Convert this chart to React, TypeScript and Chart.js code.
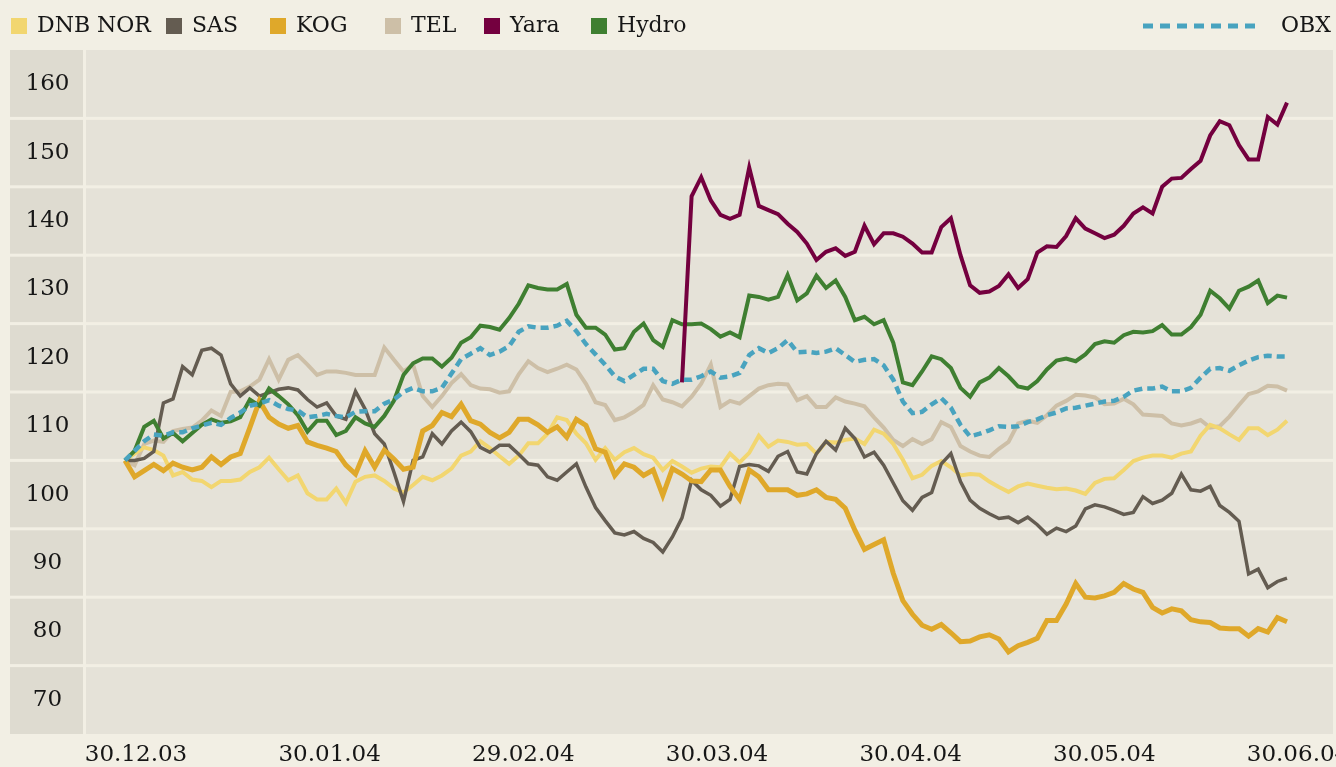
import React, { useEffect, useRef } from 'react';
import { Chart, registerables } from 'chart.js';

Chart.register(...registerables);

// ---------- data ----------
const seriesNames = ['DNB NOR', 'SAS', 'KOG', 'TEL', 'Yara', 'Hydro'];
const benchmarkName = 'OBX';
const xTickLabels = ['30.12.03', '30.01.04', '29.02.04', '30.03.04', '30.04.04', '30.05.04', '30.06.04'];
const yTickLabels = ['70', '80', '90', '100', '110', '120', '130', '140', '150', '160'];

const dnbNor = [
  100, 101.0, 101.9, 101.5, 100.7, 97.8, 98.3, 97.2, 97.0, 96.1,
  97.0, 97.0, 97.2, 98.3, 99.0, 100.4, 98.7, 97.1, 97.8, 95.2,
  94.3, 94.3, 95.9, 93.8, 96.9, 97.6, 97.8, 97.0, 95.9, 95.3,
  96.4, 97.6, 97.1, 97.8, 98.8, 100.7, 101.3, 102.8, 101.8, 100.6,
  99.5, 100.7, 102.5, 102.5, 103.9, 106.3, 105.9, 103.9, 102.5, 100.1,
  101.8, 100.1, 101.2, 101.8, 100.9, 100.4, 98.6, 99.9, 99.1, 98.2,
  98.8, 99.1, 99.0, 101.0, 99.7, 101.1, 103.6, 102.0, 102.9, 102.7,
  102.3, 102.4, 101.0, 102.7, 102.6, 103.0, 103.2, 102.4, 104.5, 103.9,
  102.4, 100.1, 97.4, 97.9, 99.2, 99.9, 99.0, 97.8, 98.0, 97.9,
  96.9, 96.1, 95.4, 96.2, 96.6, 96.3, 96.0, 95.8, 95.9, 95.6,
  95.1, 96.7, 97.3, 97.4, 98.6, 99.9, 100.4, 100.7, 100.7, 100.4,
  101.0, 101.3, 103.6, 105.2, 104.7, 103.8, 103.0, 104.7, 104.7, 103.7,
  104.5, 105.8,
];

const sas = [
  100, 100.0, 100.3, 101.3, 108.4, 109.0, 113.7, 112.5, 116.1, 116.4,
  115.4, 111.2, 109.4, 110.6, 109.4, 109.9, 110.4, 110.6, 110.3, 108.9,
  107.8, 108.4, 106.5, 106.0, 110.1, 107.5, 103.9, 102.4, 98.3, 94.0,
  100.0, 100.5, 103.9, 102.4, 104.3, 105.6, 104.2, 101.9, 101.2, 102.2,
  102.2, 100.9, 99.5, 99.3, 97.6, 97.1, 98.3, 99.5, 96.1, 93.1,
  91.2, 89.4, 89.1, 89.6, 88.6, 88.0, 86.6, 88.8, 91.6, 97.1,
  95.7, 94.9, 93.3, 94.3, 99.1, 99.4, 99.2, 98.4, 100.6, 101.3,
  98.3, 98.0, 101.0, 102.8, 101.5, 104.7, 103.2, 100.5, 101.2, 99.3,
  96.7, 94.1, 92.7, 94.6, 95.3, 99.5, 101.0, 96.9, 94.2, 93.0,
  92.2, 91.5, 91.7, 90.9, 91.7, 90.6, 89.2, 90.1, 89.6, 90.4,
  92.9, 93.5, 93.2, 92.7, 92.1, 92.4, 94.7, 93.7, 94.2, 95.2,
  98.0, 95.7, 95.5, 96.2, 93.4, 92.4, 91.1, 83.4, 84.1, 81.4,
  82.3, 82.8,
];

const kog = [
  100, 97.6, 98.5, 99.4, 98.5, 99.6, 99.0, 98.6, 99.0, 100.5,
  99.4, 100.5, 101.0, 104.8, 108.7, 106.3, 105.3, 104.7, 105.1, 102.7,
  102.2, 101.8, 101.3, 99.3, 98.0, 101.4, 99.0, 101.5, 100.2, 98.7,
  99.0, 104.3, 105.1, 107.0, 106.4, 108.2, 105.8, 105.3, 104.1, 103.3,
  104.1, 106.0, 106.0, 105.2, 104.1, 104.9, 103.4, 106.0, 105.1, 101.7,
  101.2, 97.8, 99.5, 99.0, 97.8, 98.6, 94.9, 98.8, 98.0, 97.0,
  96.9, 98.6, 98.6, 96.2, 94.3, 98.6, 97.6, 95.7, 95.7, 95.7,
  94.9, 95.1, 95.7, 94.6, 94.3, 93.0, 89.8, 87.0, 87.7, 88.4,
  83.5, 79.5, 77.5, 75.9, 75.3, 76.0, 74.8, 73.5, 73.6, 74.2,
  74.5, 73.9, 72.0, 72.9, 73.4, 74.0, 76.6, 76.6, 79.0, 82.0,
  80.0, 79.9, 80.2, 80.7, 82.0, 81.2, 80.7, 78.5, 77.7, 78.3,
  78.0, 76.7, 76.4, 76.3, 75.5, 75.4, 75.4, 74.3, 75.4, 74.9,
  77.0, 76.4,
];

const tel = [
  100, 99.3, 102.4, 102.9, 102.7, 104.3, 104.6, 104.8, 105.8, 107.3,
  106.5, 110.0, 110.1, 110.8, 111.8, 114.8, 111.8, 114.7, 115.4, 114.0,
  112.5, 113.0, 113.0, 112.8, 112.5, 112.5, 112.5, 116.5, 114.7, 113.0,
  114.0, 109.4, 107.8, 109.4, 111.3, 112.6, 111.0, 110.5, 110.4, 109.9,
  110.1, 112.6, 114.5, 113.5, 112.9, 113.4, 114.0, 113.3, 111.2, 108.5,
  108.1, 105.9, 106.3, 107.1, 108.1, 111.0, 108.9, 108.5, 107.9, 109.3,
  111.2, 114.0, 107.8, 108.7, 108.3, 109.4, 110.5, 111.0, 111.2, 111.1,
  108.8, 109.4, 107.8, 107.8, 109.2, 108.6, 108.3, 107.9, 106.3, 104.8,
  103.0, 102.1, 103.1, 102.4, 103.1, 105.6, 104.9, 102.1, 101.3, 100.7,
  100.5, 101.7, 102.7, 105.4, 105.8, 105.5, 106.6, 108.0, 108.7, 109.6,
  109.5, 109.2, 108.2, 108.3, 109.0, 108.2, 106.7, 106.6, 106.5, 105.4,
  105.1, 105.4, 105.9, 104.8, 105.0, 106.4, 108.1, 109.7, 110.1, 110.9,
  110.8, 110.2,
];

// Yara was listed later: its first value belongs to trading day index 58
const yaraFirstIndex = 58;
const yara = [
  111.4, 138.6, 141.4, 138.0, 135.9, 135.3, 135.9, 142.8, 137.2, 136.6,
  136.0, 134.6, 133.4, 131.7, 129.3, 130.5, 131.0, 129.9, 130.5, 134.3,
  131.6, 133.2, 133.2, 132.7, 131.7, 130.4, 130.4, 134.1, 135.4, 130.0,
  125.6, 124.5, 124.7, 125.5, 127.2, 125.2, 126.5, 130.4, 131.3, 131.2,
  132.8, 135.4, 133.9, 133.2, 132.5, 133.0, 134.3, 136.1, 137.0, 136.1,
  140.0, 141.2, 141.3, 142.6, 143.8, 147.5, 149.6, 149.0, 146.1, 144.0,
  144.0, 150.2, 149.1, 152.3,
];

const hydro = [
  100, 101.4, 104.9, 105.8, 103.2, 104.0, 102.8, 104.0, 105.2, 106.0,
  105.5, 105.7, 106.3, 108.9, 108.0, 110.5, 109.4, 108.2, 106.6, 104.2,
  105.8, 105.8, 103.7, 104.3, 106.3, 105.4, 104.9, 106.5, 108.7, 112.5,
  114.2, 114.9, 114.9, 113.7, 115.0, 117.2, 118.0, 119.7, 119.5, 119.1,
  120.8, 122.9, 125.6, 125.2, 125.0, 125.0, 125.8, 121.3, 119.4, 119.4,
  118.4, 116.2, 116.4, 118.8, 120.0, 117.6, 116.6, 120.5, 119.9, 119.9,
  120.0, 119.2, 118.1, 118.7, 118.0, 124.1, 123.9, 123.5, 123.9, 127.1,
  123.4, 124.4, 127.0, 125.2, 126.3, 123.9, 120.5, 121.0, 119.9, 120.5,
  117.2, 111.4, 111.0, 113.0, 115.2, 114.8, 113.5, 110.6, 109.3, 111.4,
  112.1, 113.5, 112.3, 110.8, 110.5, 111.6, 113.3, 114.6, 114.9, 114.5,
  115.5, 117.0, 117.4, 117.2, 118.3, 118.8, 118.7, 118.9, 119.8, 118.4,
  118.4, 119.5, 121.3, 124.8, 123.7, 122.2, 124.8, 125.4, 126.3, 123.0,
  124.1, 123.8,
];

const obx = [
  100, 101.4, 102.8, 103.8, 103.6, 104.1, 104.1, 104.7, 105.1, 105.5,
  105.2, 106.2, 107.0, 108.0, 108.3, 108.8, 108.0, 107.5, 107.3, 106.3,
  106.5, 106.8, 106.5, 106.3, 107.1, 107.2, 107.2, 108.3, 108.9, 110.0,
  110.6, 110.1, 110.1, 110.6, 112.7, 114.8, 115.6, 116.4, 115.4, 115.9,
  116.7, 118.8, 119.6, 119.4, 119.4, 119.7, 120.4, 118.9, 117.0, 115.5,
  114.0, 112.3, 111.6, 112.5, 113.4, 113.4, 111.6, 111.2, 111.8, 111.8,
  112.3, 113.0, 112.1, 112.3, 112.8, 115.4, 116.4, 115.7, 116.4, 117.6,
  115.8, 115.9, 115.7, 115.9, 116.4, 115.4, 114.4, 114.7, 114.8, 113.9,
  111.8, 108.6, 106.9, 107.1, 108.2, 109.1, 107.7, 105.2, 103.5, 103.9,
  104.4, 105.0, 104.9, 105.0, 105.6, 106.0, 106.6, 107.0, 107.6, 107.7,
  108.0, 108.3, 108.6, 108.7, 109.3, 110.2, 110.5, 110.5, 110.8, 110.1,
  110.1, 110.6, 112.1, 113.4, 113.5, 113.1, 113.9, 114.6, 115.1, 115.3,
  115.2, 115.2,
];

// ---------- styles ----------
const COLORS = ['#f2d670', '#645c51', '#dfa82a', '#cdbfa7', '#74003f', '#3f7f31'];
const OBX_COLOR = '#48a3bf';
const PAGE_BG = '#f2efe4';
const PLOT_BG = '#e5e2d8';
const COL_BG = '#dedbd0';
const TEXT = '#161616';
const FONT = '"DejaVu Serif", "Liberation Serif", serif';

const W = 1336;
const H = 767;
const COL_LEFT = 10;
const PLOT_LEFT = 86;
const PLOT_RIGHT = 1333;
const PLOT_TOP = 50;
const PLOT_BOTTOM = 734;
const LINE_START_PX = 125;
const LINE_END_PX = 1287;
const LEGEND_X = [11, 166, 270, 385, 484, 591];

const toPoints = (arr: (number | null)[], offset = 0) => arr.map((v, i) => ({ x: i + offset, y: v }));

export default function App() {
  const ref = useRef<HTMLCanvasElement | null>(null);

  useEffect(() => {
    if (!ref.current) return;
    const n = dnbNor.length;
    const pxPerIdx = (LINE_END_PX - LINE_START_PX) / (n - 1);
    const xMin = -(LINE_START_PX - PLOT_LEFT) / pxPerIdx;
    const xMax = n - 1 + (PLOT_RIGHT - LINE_END_PX) / pxPerIdx;

    const series = [dnbNor, sas, kog, tel, yara, hydro];
    const widths = [4, 3.5, 5, 4, 4, 4];
    const orders = [5, 4, 3, 6, 1, 2];

    const datasets: any[] = series.map((arr, k) => ({
      label: seriesNames[k],
      data: toPoints(arr, k === 4 ? yaraFirstIndex : 0),
      borderColor: COLORS[k],
      backgroundColor: COLORS[k],
      borderWidth: widths[k],
      pointRadius: 0,
      tension: 0,
      fill: false,
      order: orders[k],
    }));
    datasets.push({
      label: benchmarkName,
      data: toPoints(obx),
      borderColor: OBX_COLOR,
      backgroundColor: OBX_COLOR,
      borderWidth: 4.5,
      borderDash: [8, 5],
      pointRadius: 0,
      tension: 0,
      fill: false,
      order: 0,
    });

    const decor = {
      id: 'decor',
      beforeDraw(chart: any) {
        const { ctx, chartArea: a, scales } = chart;
        const ys = scales.y;
        const xs = scales.x;
        ctx.save();
        ctx.fillStyle = PAGE_BG;
        ctx.fillRect(0, 0, chart.width, chart.height);
        ctx.fillStyle = COL_BG;
        ctx.fillRect(COL_LEFT, a.top, a.left - 3 - COL_LEFT, a.bottom - a.top);
        ctx.fillStyle = PLOT_BG;
        ctx.fillRect(a.left, a.top, a.right - a.left, a.bottom - a.top);

        // horizontal band separators
        ctx.fillStyle = PAGE_BG;
        for (let v = 70; v <= 150; v += 10) {
          const py = ys.getPixelForValue(v);
          ctx.fillRect(COL_LEFT, py - 1.5, a.right - COL_LEFT, 3);
        }

        // y labels (each sits in the band below its value)
        ctx.fillStyle = TEXT;
        ctx.font = `23px ${FONT}`;
        ctx.textAlign = 'center';
        ctx.textBaseline = 'middle';
        const colCenter = (COL_LEFT + a.left - 3) / 2 + 1;
        yTickLabels.forEach((t) => {
          const v = Number(t);
          ctx.fillText(t, colCenter, ys.getPixelForValue(v - 5));
        });

        // x labels
        const nIdx = dnbNor.length - 1;
        xTickLabels.forEach((t, k) => {
          const px = xs.getPixelForValue((k * nIdx) / (xTickLabels.length - 1)) + 11;
          ctx.fillText(t, px, 755);
        });

        // legend
        ctx.font = `22px ${FONT}`;
        ctx.textAlign = 'left';
        seriesNames.forEach((name, k) => {
          const lx = LEGEND_X[k];
          ctx.fillStyle = COLORS[k];
          ctx.fillRect(lx, 18, 16, 16);
          ctx.fillStyle = TEXT;
          ctx.fillText(name, lx + 26, 26);
        });
        ctx.strokeStyle = OBX_COLOR;
        ctx.lineWidth = 5;
        ctx.setLineDash([10, 7]);
        ctx.beginPath();
        ctx.moveTo(1143, 26);
        ctx.lineTo(1256, 26);
        ctx.stroke();
        ctx.setLineDash([]);
        ctx.fillStyle = TEXT;
        ctx.fillText(benchmarkName, 1281, 26);
        ctx.restore();
      },
    };

    const chart = new Chart(ref.current, {
      type: 'line',
      data: { datasets },
      options: {
        animation: false,
        responsive: false,
        maintainAspectRatio: false,
        devicePixelRatio: 1,
        layout: {
          padding: { left: PLOT_LEFT, right: W - PLOT_RIGHT, top: PLOT_TOP, bottom: H - PLOT_BOTTOM },
        },
        scales: {
          x: { type: 'linear', min: xMin, max: xMax, display: false },
          y: { type: 'linear', min: 60, max: 160, display: false },
        },
        plugins: {
          legend: { display: false },
          tooltip: { enabled: false },
        },
        elements: { line: { borderJoinStyle: 'miter', borderCapStyle: 'butt' } },
      },
      plugins: [decor],
    });
    return () => chart.destroy();
  }, []);

  return (
    <div style={{ position: 'fixed', left: 0, top: 0, width: W, height: H, background: PAGE_BG }}>
      <canvas ref={ref} width={W} height={H} style={{ display: 'block', width: W, height: H }} />
    </div>
  );
}
